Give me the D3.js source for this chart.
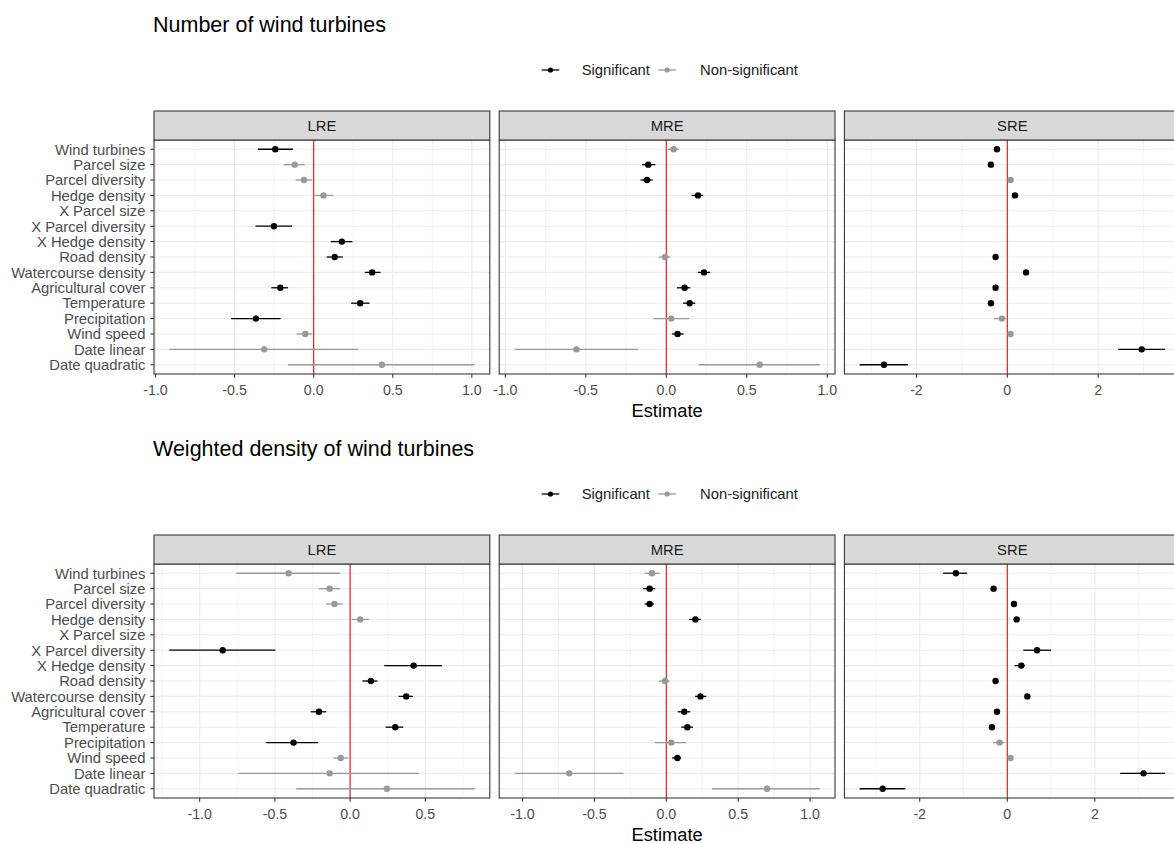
<!DOCTYPE html>
<html>
<head>
<meta charset="utf-8">
<script src="https://cdn.jsdelivr.net/npm/d3@7"></script>
<style>
  html, body { margin: 0; padding: 0; background: #ffffff; }
  svg { display: block; font-family: "Liberation Sans", Arial, sans-serif; }
</style>
</head>
<body>
<script>
// ---------------- DATA ----------------
const categories = ["Wind turbines", "Parcel size", "Parcel diversity", "Hedge density", "X Parcel size",
  "X Parcel diversity", "X Hedge density", "Road density", "Watercourse density", "Agricultural cover",
  "Temperature", "Precipitation", "Wind speed", "Date linear", "Date quadratic"];

const facetNames = ["LRE", "MRE", "SRE"];
const chartTitles = ["Number of wind turbines", "Weighted density of wind turbines"];
const legendLabels = ["Significant", "Non-significant"];
const axisTitle = "Estimate";

// Chart 1 : Number of wind turbines
const numLRE_est = [-0.243, -0.12, -0.061, 0.062, null, -0.251, 0.178, 0.133, 0.37, -0.211, 0.294, -0.365, -0.053, -0.313, 0.431];
const numLRE_lo  = [-0.353, -0.19, -0.114, 0.006, null, -0.368, 0.108, 0.082, 0.323, -0.268, 0.237, -0.522, -0.108, -0.913, -0.162];
const numLRE_hi  = [-0.131, -0.057, -0.01, 0.123, null, -0.137, 0.245, 0.184, 0.423, -0.162, 0.353, -0.209, -0.01, 0.281, 1.017];
const numLRE_sig = [1, 0, 0, 0, null, 1, 1, 1, 1, 1, 1, 1, 0, 0, 0];

const numMRE_est = [0.046, -0.112, -0.12, 0.197, null, null, null, -0.008, 0.234, 0.114, 0.145, 0.031, 0.07, -0.558, 0.58];
const numMRE_lo  = [0.01, -0.151, -0.16, 0.157, null, null, null, -0.048, 0.195, 0.066, 0.104, -0.079, 0.035, -0.943, 0.201];
const numMRE_hi  = [0.079, -0.068, -0.085, 0.23, null, null, null, 0.025, 0.274, 0.149, 0.18, 0.141, 0.108, -0.176, 0.953];
const numMRE_sig = [0, 1, 1, 1, null, null, null, 0, 1, 1, 1, 0, 1, 0, 0];

const numSRE_est = [-0.228, -0.36, 0.073, 0.17, null, null, null, -0.258, 0.413, -0.258, -0.36, -0.117, 0.073, 2.958, -2.715];
const numSRE_lo  = [-0.27, -0.40, 0.03, 0.13, null, null, null, -0.30, 0.37, -0.30, -0.40, -0.294, 0.03, 2.44, -3.25];
const numSRE_hi  = [-0.19, -0.32, 0.11, 0.21, null, null, null, -0.22, 0.45, -0.22, -0.32, -0.022, 0.11, 3.47, -2.19];
const numSRE_sig = [1, 1, 0, 1, null, null, null, 1, 1, 1, 1, 0, 0, 1, 1];

// Chart 2 : Weighted density of wind turbines
const denLRE_est = [-0.409, -0.136, -0.104, 0.067, null, -0.847, 0.422, 0.138, 0.373, -0.207, 0.3, -0.376, -0.062, -0.136, 0.244];
const denLRE_lo  = [-0.756, -0.209, -0.158, 0.009, null, -1.202, 0.227, 0.082, 0.322, -0.262, 0.236, -0.558, -0.109, -0.742, -0.358];
const denLRE_hi  = [-0.067, -0.067, -0.047, 0.124, null, -0.496, 0.611, 0.182, 0.418, -0.158, 0.353, -0.213, -0.013, 0.457, 0.827];
const denLRE_sig = [0, 0, 0, 0, null, 1, 1, 1, 1, 1, 1, 1, 0, 0, 0];

const denMRE_est = [-0.1, -0.116, -0.116, 0.202, null, null, null, -0.009, 0.237, 0.125, 0.146, 0.035, 0.077, -0.675, 0.701];
const denMRE_lo  = [-0.151, -0.162, -0.151, 0.16, null, null, null, -0.053, 0.2, 0.079, 0.104, -0.079, 0.04, -1.056, 0.318];
const denMRE_hi  = [-0.046, -0.077, -0.086, 0.239, null, null, null, 0.023, 0.278, 0.167, 0.186, 0.139, 0.102, -0.297, 1.067];
const denMRE_sig = [0, 1, 1, 1, null, null, null, 0, 1, 1, 1, 0, 1, 0, 0];

const denSRE_est = [-1.174, -0.313, 0.153, 0.213, null, 0.68, 0.32, -0.267, 0.458, -0.236, -0.351, -0.175, 0.076, 3.112, -2.845];
const denSRE_lo  = [-1.465, -0.35, 0.12, 0.18, null, 0.366, 0.168, -0.30, 0.42, -0.27, -0.39, -0.328, 0.04, 2.579, -3.371];
const denSRE_hi  = [-0.915, -0.28, 0.19, 0.25, null, 1.0, 0.397, -0.23, 0.50, -0.20, -0.31, -0.061, 0.11, 3.6, -2.327];
const denSRE_sig = [1, 1, 1, 1, null, 1, 1, 1, 1, 1, 1, 0, 0, 1, 1];

// x-axis tick values per facet
const ticksNumLRE = [-1.0, -0.5, 0.0, 0.5, 1.0];
const ticksNumMRE = [-1.0, -0.5, 0.0, 0.5, 1.0];
const ticksNumSRE = [-2, 0, 2];
const ticksDenLRE = [-1.0, -0.5, 0.0, 0.5];
const ticksDenMRE = [-1.0, -0.5, 0.0, 0.5, 1.0];
const ticksDenSRE = [-2, 0, 2];

// ---------------- BUILD ----------------
function panelRows(est, lo, hi, sig) {
  return categories.map((c, i) => ({ cat: c, est: est[i], lo: lo[i], hi: hi[i], sig: sig[i] }))
    .filter(d => d.est !== null);
}
const charts = [
  { title: chartTitles[0], panels: [
    { name: facetNames[0], rows: panelRows(numLRE_est, numLRE_lo, numLRE_hi, numLRE_sig), ticks: ticksNumLRE, dec: 1 },
    { name: facetNames[1], rows: panelRows(numMRE_est, numMRE_lo, numMRE_hi, numMRE_sig), ticks: ticksNumMRE, dec: 1 },
    { name: facetNames[2], rows: panelRows(numSRE_est, numSRE_lo, numSRE_hi, numSRE_sig), ticks: ticksNumSRE, dec: 0 }
  ]},
  { title: chartTitles[1], panels: [
    { name: facetNames[0], rows: panelRows(denLRE_est, denLRE_lo, denLRE_hi, denLRE_sig), ticks: ticksDenLRE, dec: 1 },
    { name: facetNames[1], rows: panelRows(denMRE_est, denMRE_lo, denMRE_hi, denMRE_sig), ticks: ticksDenMRE, dec: 1 },
    { name: facetNames[2], rows: panelRows(denSRE_est, denSRE_lo, denSRE_hi, denSRE_sig), ticks: ticksDenSRE, dec: 0 }
  ]}
];

// ---------------- LAYOUT ----------------
const W = 1174, H = 844;
const FONT = '"Liberation Sans", Arial, sans-serif';
const panelX0 = 154, panelW = 335.8, panelGap = 9.4;
const chartOffset = 424;
const titleY = 32, legendY = 70, stripTop = 111, stripH = 29, panelTop = 140, panelBottom = 374;
const colSig = "#000000", colNS = "#999999";

const svg = d3.select("body").append("svg").attr("width", W).attr("height", H);

const yScale = d3.scalePoint().domain(categories).range([panelTop, panelBottom]).padding(0.6);

charts.forEach((chart, ci) => {
  const g = svg.append("g").attr("transform", `translate(0,${ci * chartOffset})`);

  // title
  g.append("text").attr("x", 153).attr("y", titleY)
    .attr("font-size", 21.5).attr("fill", "#000").text(chart.title);

  // legend
  const leg = g.append("g");
  const legItems = [
    { label: legendLabels[0], color: colSig, x0: 541.7, tx: 581.7 },
    { label: legendLabels[1], color: colNS, x0: 658.3, tx: 700 }
  ];
  legItems.forEach(it => {
    leg.append("line").attr("x1", it.x0).attr("x2", it.x0 + 17.6)
      .attr("y1", legendY).attr("y2", legendY).attr("stroke", it.color).attr("stroke-width", 1.3);
    leg.append("circle").attr("cx", it.x0 + 8.8).attr("cy", legendY).attr("r", 2.6).attr("fill", it.color);
    leg.append("text").attr("x", it.tx).attr("y", legendY + 5.2)
      .attr("font-size", 14.8).attr("fill", "#1a1a1a").text(it.label);
  });

  chart.panels.forEach((p, pi) => {
    const x0 = panelX0 + pi * (panelW + panelGap);
    const lo = d3.min(p.rows, d => d.lo), hi = d3.max(p.rows, d => d.hi);
    const ex = (hi - lo) * 0.05;
    const x = d3.scaleLinear().domain([lo - ex, hi + ex]).range([x0, x0 + panelW]);
    const pg = g.append("g");

    // panel background
    pg.append("rect").attr("x", x0).attr("y", panelTop).attr("width", panelW)
      .attr("height", panelBottom - panelTop).attr("fill", "#fff");

    // minor gridlines
    const step = p.ticks[1] - p.ticks[0];
    const minors = [];
    for (let v = p.ticks[0] - step / 2; v <= hi + ex; v += step) {
      if (v >= lo - ex) minors.push(v);
    }
    pg.selectAll(".minor").data(minors).enter().append("line")
      .attr("x1", d => x(d)).attr("x2", d => x(d)).attr("y1", panelTop).attr("y2", panelBottom)
      .attr("stroke", "#EBEBEB").attr("stroke-width", 0.55);
    // major vertical gridlines
    pg.selectAll(".majx").data(p.ticks).enter().append("line")
      .attr("x1", d => x(d)).attr("x2", d => x(d)).attr("y1", panelTop).attr("y2", panelBottom)
      .attr("stroke", "#EBEBEB").attr("stroke-width", 1.07);
    // major horizontal gridlines
    pg.selectAll(".majy").data(categories).enter().append("line")
      .attr("x1", x0).attr("x2", x0 + panelW).attr("y1", d => yScale(d)).attr("y2", d => yScale(d))
      .attr("stroke", "#EBEBEB").attr("stroke-width", 1.07);

    // zero line
    pg.append("line").attr("x1", x(0)).attr("x2", x(0)).attr("y1", panelTop).attr("y2", panelBottom)
      .attr("stroke", "#FF0000").attr("stroke-width", 1.07);

    // error bars and points
    const marks = pg.selectAll(".pr").data(p.rows).enter().append("g");
    marks.append("line")
      .attr("x1", d => x(d.lo)).attr("x2", d => x(d.hi))
      .attr("y1", d => yScale(d.cat)).attr("y2", d => yScale(d.cat))
      .attr("stroke", d => d.sig ? colSig : colNS).attr("stroke-width", 1.3);
    marks.append("circle")
      .attr("cx", d => x(d.est)).attr("cy", d => yScale(d.cat)).attr("r", 3.2)
      .attr("fill", d => d.sig ? colSig : colNS);

    // panel border
    pg.append("rect").attr("x", x0).attr("y", panelTop).attr("width", panelW)
      .attr("height", panelBottom - panelTop).attr("fill", "none")
      .attr("stroke", "#333333").attr("stroke-width", 1.07);

    // strip
    pg.append("rect").attr("x", x0).attr("y", stripTop).attr("width", panelW).attr("height", stripH)
      .attr("fill", "#D9D9D9").attr("stroke", "#333333").attr("stroke-width", 1.07);
    pg.append("text").attr("x", x0 + panelW / 2).attr("y", stripTop + stripH / 2 + 5.2)
      .attr("text-anchor", "middle").attr("font-size", 14.8).attr("fill", "#1A1A1A").text(p.name);

    // x axis
    const fmt = v => v.toFixed(p.dec);
    const xa = pg.append("g");
    xa.selectAll("line").data(p.ticks).enter().append("line")
      .attr("x1", d => x(d)).attr("x2", d => x(d)).attr("y1", panelBottom).attr("y2", panelBottom + 3.7)
      .attr("stroke", "#333333").attr("stroke-width", 1.07);
    xa.selectAll("text").data(p.ticks).enter().append("text")
      .attr("x", d => x(d)).attr("y", panelBottom + 21)
      .attr("text-anchor", "middle").attr("font-size", 14.2).attr("fill", "#4D4D4D").text(fmt);

    // y axis (first panel only)
    if (pi === 0) {
      const ya = pg.append("g");
      ya.selectAll("line").data(categories).enter().append("line")
        .attr("x1", x0 - 3.7).attr("x2", x0).attr("y1", d => yScale(d)).attr("y2", d => yScale(d))
        .attr("stroke", "#333333").attr("stroke-width", 1.07);
      ya.selectAll("text").data(categories).enter().append("text")
        .attr("x", x0 - 8.5).attr("y", d => yScale(d) + 5.3)
        .attr("text-anchor", "end").attr("font-size", 14.8).attr("fill", "#4D4D4D").text(d => d);
    }
  });

  // x axis title
  g.append("text").attr("x", (panelX0 + panelX0 + 3 * panelW + 2 * panelGap) / 2).attr("y", 417)
    .attr("text-anchor", "middle").attr("font-size", 18.3).attr("fill", "#000").text(axisTitle);
});
</script>
</body>
</html>
